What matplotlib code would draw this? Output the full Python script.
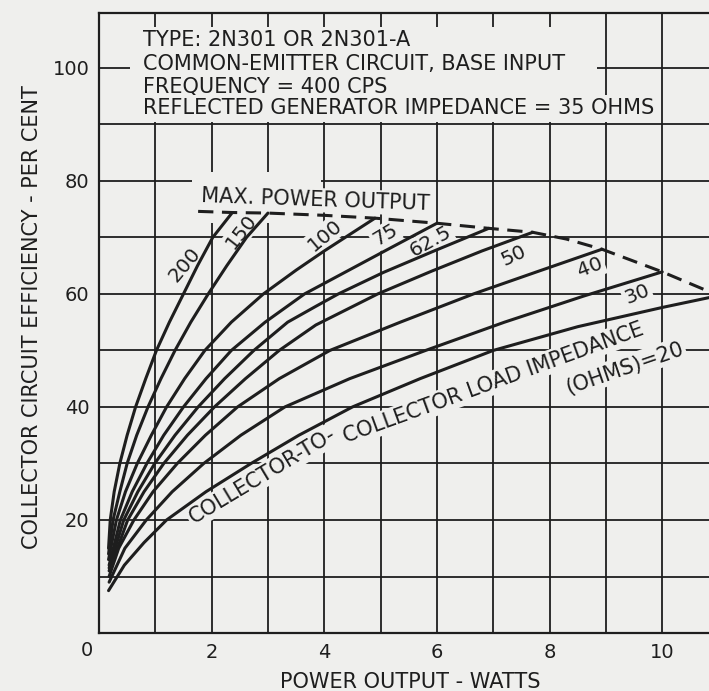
import matplotlib
matplotlib.use('Agg')
import matplotlib.pyplot as plt
from matplotlib.patches import Rectangle
from matplotlib.ticker import FixedLocator

BG = '#efefed'
INK = '#1e1e1e'
FONT = 'DejaVu Sans'

# ---------------- data ----------------
loads = ['200', '150', '100', '75', '62.5', '50', '40', '30', '20']

p_200 = [0.17, 0.20, 0.27, 0.37, 0.50, 0.65, 0.83, 1.02, 1.25, 1.50, 1.75, 2.02, 2.36]
e_200 = [15, 20, 25, 30, 35, 40, 45, 50, 55, 60, 65, 70, 74.3]

p_150 = [0.17, 0.25, 0.37, 0.50, 0.67, 0.87, 1.10, 1.35, 1.63, 1.94, 2.27, 2.62, 3.00]
e_150 = [14, 20, 25, 30, 35, 40, 45, 50, 55, 60, 65, 70, 74.3]

p_100 = [0.17, 0.31, 0.47, 0.68, 0.93, 1.20, 1.52, 1.88, 2.35, 2.92, 3.50, 4.00, 4.45, 4.90]
e_100 = [13, 20, 25, 30, 35, 40, 45, 50, 55, 60, 64.2, 67.6, 70.5, 73.4]

p_75 = [0.18, 0.38, 0.59, 0.85, 1.15, 1.50, 1.90, 2.35, 2.95, 3.65, 4.40, 5.15, 6.00]
e_75 = [12, 20, 25, 30, 35, 40, 45, 50, 55, 60, 64.0, 68.0, 72.5]

p_62 = [0.18, 0.44, 0.69, 0.99, 1.35, 1.76, 2.23, 2.75, 3.35, 3.85, 4.25, 5.05, 5.95, 6.92]
e_62 = [11.5, 20, 25, 30, 35, 40, 45, 50, 55, 57.8, 60, 63.8, 67.6, 71.6]

p_50 = [0.18, 0.51, 0.80, 1.15, 1.57, 2.05, 2.60, 3.20, 3.85, 4.95, 5.90, 6.80, 7.70]
e_50 = [11, 20, 25, 30, 35, 40, 45, 50, 54.5, 60, 64.0, 67.6, 70.9]

p_40 = [0.18, 0.35, 0.62, 0.96, 1.39, 1.89, 2.46, 3.20, 4.10, 5.35, 6.65, 7.80, 8.93]
e_40 = [10, 15, 20, 25, 30, 35, 40, 45, 50, 55, 60, 64.0, 67.9]

p_30 = [0.18, 0.46, 0.84, 1.30, 1.86, 2.52, 3.30, 4.45, 5.80, 7.20, 8.60, 10.00]
e_30 = [9, 15, 20, 25, 30, 35, 40, 45, 50, 55, 59.6, 63.9]

p_20 = [0.17, 0.45, 0.80, 1.20, 1.90, 2.70, 3.55, 4.50, 5.70, 7.00, 8.50, 10.00, 11.00]
e_20 = [7.5, 12, 16, 20, 25, 30, 35, 40, 45, 50, 54.2, 57.6, 59.7]

# locus of maximum power output (dashed)
p_max = [1.76, 2.36, 3.00, 4.00, 4.90, 6.00, 6.92, 7.70, 8.30, 8.93, 10.00, 11.00]
e_max = [74.6, 74.4, 74.3, 73.9, 73.4, 72.5, 71.6, 70.9, 69.7, 67.9, 63.9, 59.7]

x_ticks = [0, 1, 2, 3, 4, 5, 6, 7, 8, 9, 10]
x_tick_labels = ['', '', '2', '', '4', '', '6', '', '8', '', '10']
y_ticks = [0, 10, 20, 30, 40, 50, 60, 70, 80, 90, 100]
y_tick_labels = ['', '', '20', '', '40', '', '60', '', '80', '', '100']

header = ['TYPE: 2N301 OR 2N301-A',
          'COMMON-EMITTER CIRCUIT, BASE INPUT',
          'FREQUENCY = 400 CPS',
          'REFLECTED GENERATOR IMPEDANCE = 35 OHMS']

curves = [(p_200, e_200), (p_150, e_150), (p_100, e_100), (p_75, e_75),
          (p_62, e_62), (p_50, e_50), (p_40, e_40), (p_30, e_30), (p_20, e_20)]

# label placement (data coords) and rotation for each curve label
label_pos = {'200': (1.53, 65.1, 50), '150': (2.53, 71.0, 52), '100': (4.01, 70.4, 40),
             '75': (5.08, 70.4, 31), '62.5': (5.88, 69.3, 29), '50': (7.37, 66.8, 25),
             '40': (8.72, 64.7, 21), '30': (9.55, 60.0, 22)}

# ---------------- figure ----------------
plt.rcParams['font.family'] = [FONT]
fig = plt.figure(figsize=(7.09, 6.91), dpi=100, facecolor=BG)
ax = fig.add_axes([0.1396, 0.0839, 0.8604, 0.8973], facecolor=BG)
ax.set_xlim(0, 10.83)
ax.set_ylim(0, 109.7)

ax.xaxis.set_major_locator(FixedLocator(x_ticks))
ax.yaxis.set_major_locator(FixedLocator(y_ticks))
ax.set_xticklabels(x_tick_labels)
ax.set_yticklabels(y_tick_labels)
ax.tick_params(length=0, labelsize=14, colors=INK)
ax.tick_params(axis='x', pad=7)
ax.tick_params(axis='y', pad=7)
ax.set_axisbelow(True)
ax.grid(True, color=INK, lw=1.3)
for s in ['left', 'bottom', 'top']:
    ax.spines[s].set_color(INK)
    ax.spines[s].set_linewidth(1.6)
ax.spines['right'].set_visible(False)

# origin label
ax.text(-0.22, -0.028, '0', transform=ax.get_xaxis_transform(), ha='center', va='center',
        fontsize=14, color=INK, clip_on=False)

# blank areas of the grid (text block, max-power label)
ax.add_patch(Rectangle((0.55, 91.0), 8.3, 16.3, facecolor=BG, edgecolor='none', zorder=1))
ax.add_patch(Rectangle((1.65, 72.5), 2.3, 9.0, facecolor=BG, edgecolor='none', zorder=1))

# curves
for (p, e) in curves:
    ax.plot(p, e, color=INK, lw=2.2, solid_capstyle='round', solid_joinstyle='round', zorder=3)
ax.plot(p_max, e_max, color=INK, lw=2.2, dashes=(5, 2.8), zorder=3)

box = dict(facecolor=BG, edgecolor='none', pad=1.5)
for name in loads[:-1]:
    x, y, r = label_pos[name]
    ax.text(x, y, name, rotation=r, rotation_mode='anchor', ha='center', va='center',
            fontsize=14.5, color=INK, bbox=box, zorder=2)

ax.text(3.85, 76.6, 'MAX. POWER OUTPUT', rotation=-2, ha='center', va='center',
        rotation_mode='anchor', fontsize=15, color=INK, bbox=box, zorder=2)
ax.text(2.9, 27.8, 'COLLECTOR-TO-', rotation=31, ha='center', va='center',
        rotation_mode='anchor', fontsize=15, color=INK, bbox=box, zorder=2)
ax.text(7.0, 44.3, 'COLLECTOR LOAD IMPEDANCE', rotation=20, ha='center', va='center',
        rotation_mode='anchor', fontsize=15, color=INK, bbox=box, zorder=2)
ax.text(9.33, 46.9, '(OHMS)=20', rotation=19, ha='center', va='center',
        rotation_mode='anchor', fontsize=15, color=INK, bbox=box, zorder=2)

# header text block
for txt, yb in zip(header, [103.8, 99.6, 95.7, 91.8]):
    ax.text(0.78, yb, txt, ha='left', va='baseline', fontsize=15, color=INK,
            bbox=dict(facecolor=BG, edgecolor='none', pad=2.5), zorder=2)

ax.set_xlabel('POWER OUTPUT - WATTS', fontsize=15, color=INK)
ax.xaxis.set_label_coords(0.511, -0.063)
ax.set_ylabel('COLLECTOR CIRCUIT EFFICIENCY - PER CENT', fontsize=15, color=INK)
ax.yaxis.set_label_coords(-0.093, 0.51)

fig.savefig('out.png', dpi=100, facecolor=BG)
